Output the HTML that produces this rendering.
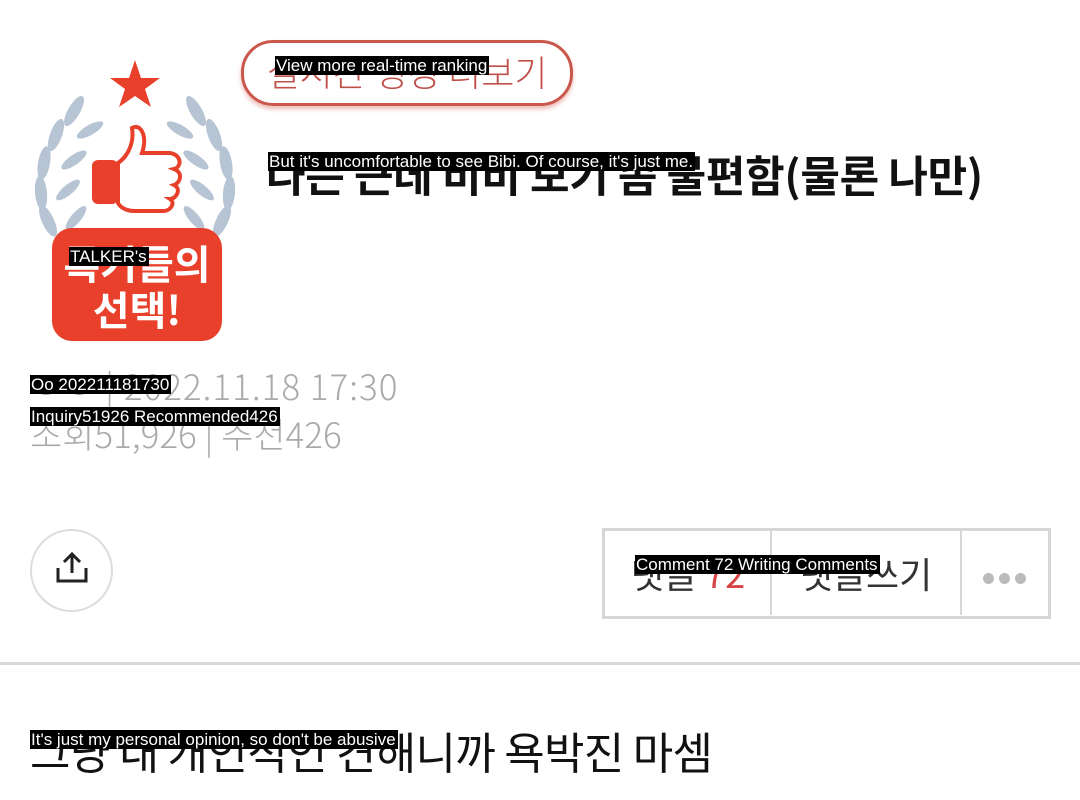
<!DOCTYPE html>
<html><head><meta charset="utf-8"><style>
html,body{margin:0;padding:0;background:#fff;width:1080px;height:800px;overflow:hidden;position:relative;font-family:"Liberation Sans","Noto Sans CJK KR",sans-serif}
.a{position:absolute;white-space:nowrap}
.cap{position:absolute;background:#000;color:#fff;font-family:"Liberation Sans",sans-serif;font-size:17px;line-height:19px;padding:0 2px 0 1px;white-space:nowrap;letter-spacing:0;z-index:5}
.k{font-family:"Noto Sans CJK KR",sans-serif}
</style></head><body>

<!-- badge -->
<svg class="a" style="left:30px;top:55px" width="210" height="290" viewBox="0 0 210 290">
  <polygon points="105,5 111,23 130,23 115,34 121,52 105,41 89,52 95,34 80,23 99,23" fill="#e8402a"/>
  <g fill="#b7c4d3">
    <ellipse cx="44" cy="56" rx="6" ry="17" transform="rotate(30 44 56)"/>
    <ellipse cx="26" cy="80" rx="6" ry="17" transform="rotate(20 26 80)"/>
    <ellipse cx="14" cy="108" rx="6" ry="17" transform="rotate(10 14 108)"/>
    <ellipse cx="11" cy="138" rx="6" ry="17" transform="rotate(-5 11 138)"/>
    <ellipse cx="18" cy="166" rx="6" ry="17" transform="rotate(-25 18 166)"/>
    <ellipse cx="60" cy="75" rx="5" ry="15" transform="rotate(60 60 75)"/>
    <ellipse cx="44" cy="105" rx="5" ry="15" transform="rotate(55 44 105)"/>
    <ellipse cx="38" cy="135" rx="5" ry="15" transform="rotate(50 38 135)"/>
    <ellipse cx="46" cy="163" rx="5" ry="15" transform="rotate(40 46 163)"/>
    <ellipse cx="166" cy="56" rx="6" ry="17" transform="rotate(-30 166 56)"/>
    <ellipse cx="184" cy="80" rx="6" ry="17" transform="rotate(-20 184 80)"/>
    <ellipse cx="196" cy="108" rx="6" ry="17" transform="rotate(-10 196 108)"/>
    <ellipse cx="199" cy="138" rx="6" ry="17" transform="rotate(5 199 138)"/>
    <ellipse cx="192" cy="166" rx="6" ry="17" transform="rotate(25 192 166)"/>
    <ellipse cx="150" cy="75" rx="5" ry="15" transform="rotate(-60 150 75)"/>
    <ellipse cx="166" cy="105" rx="5" ry="15" transform="rotate(-55 166 105)"/>
    <ellipse cx="172" cy="135" rx="5" ry="15" transform="rotate(-50 172 135)"/>
    <ellipse cx="164" cy="163" rx="5" ry="15" transform="rotate(-40 164 163)"/>
  </g>
  <rect x="62" y="105" width="26" height="44" rx="6" fill="#e8402a"/>
  <path d="M88 108 C100 100 104 85 102 73 C110 68 118 80 112 98 L140 98 C152 100 152 112 144 114 C154 118 150 128 144 130 C152 134 146 144 140 144 C146 148 140 156 134 156 L104 156 C96 156 90 152 88 148 Z" fill="#fff" stroke="#e8402a" stroke-width="4"/>
  <rect x="22" y="173" width="170" height="113" rx="20" fill="#e8402a"/>
  <text x="107" y="224" text-anchor="middle" font-family="Noto Sans CJK KR, sans-serif" font-weight="bold" font-size="40" fill="#fff">톡커들의</text>
  <text x="107" y="270" text-anchor="middle" font-family="Noto Sans CJK KR, sans-serif" font-weight="bold" font-size="40" fill="#fff">선택!</text>
</svg>
<div class="cap" style="left:69px;top:247px">TALKER's</div>

<!-- pill -->
<div class="a" style="left:241px;top:40px;width:326px;height:60px;border:3px solid #c9574c;border-radius:32px;box-shadow:0 3px 4px rgba(220,120,110,0.5)"></div>
<div class="a k" style="left:241px;top:44px;width:332px;text-align:center;font-size:36px;line-height:54px;color:#c0504a;font-weight:300">실시간 랭킹 더보기</div>
<div class="cap" style="left:275px;top:56px">View more real-time ranking</div>

<!-- title -->
<div class="a k" style="left:266px;top:142px;font-size:43px;font-weight:bold;line-height:64px;color:#111;letter-spacing:-0.3px">나는 근데 비비 보기 좀 불편함(물론 나만)</div>
<div class="cap" style="left:268px;top:152px">But it's uncomfortable to see Bibi. Of course, it's just me.</div>

<!-- meta -->
<div class="a k" style="left:30px;top:362px;font-size:35px;line-height:48px;color:#aaa;font-weight:300;letter-spacing:1px">ㅇㅇ | 2022.11.18 17:30</div>
<div class="a k" style="left:30px;top:410px;font-size:35px;line-height:48px;color:#aaa;font-weight:300">조회51,926 | 추천426</div>
<div class="cap" style="left:30px;top:375px">Oo 202211181730</div>
<div class="cap" style="left:30px;top:407px">Inquiry51926 Recommended426</div>

<!-- share -->
<div class="a" style="left:30px;top:529px;width:79px;height:79px;border:2px solid #ddd;border-radius:50%"></div>
<svg class="a" style="left:54px;top:550px" width="36" height="36" viewBox="0 0 36 36">
  <path d="M18 4 V23 M10 12 L18 4 L26 12" fill="none" stroke="#222" stroke-width="3"/>
  <path d="M4 18 V31 H32 V18" fill="none" stroke="#222" stroke-width="3"/>
</svg>

<!-- buttons -->
<div class="a" style="left:602px;top:528px;width:443px;height:85px;border:3px solid #d6d6d6"></div>
<div class="a" style="left:770px;top:530px;width:2px;height:85px;background:#d6d6d6"></div>
<div class="a" style="left:960px;top:530px;width:2px;height:85px;background:#d6d6d6"></div>
<div class="a k" style="left:605px;top:548px;width:166px;text-align:center;font-size:36px;line-height:50px;color:#333">댓글 <span style="color:#d64545">72</span></div>
<div class="a k" style="left:772px;top:548px;width:188px;text-align:center;font-size:36px;line-height:50px;color:#333">댓글쓰기</div>
<div class="a" style="left:983px;top:571px">
  <span style="display:inline-block;width:11px;height:11px;border-radius:50%;background:#bbb;margin-right:5px"></span><span style="display:inline-block;width:11px;height:11px;border-radius:50%;background:#bbb;margin-right:5px"></span><span style="display:inline-block;width:11px;height:11px;border-radius:50%;background:#bbb"></span>
</div>
<div class="cap" style="left:635px;top:555px">Comment 72 Writing Comments</div>

<!-- hr -->
<div class="a" style="left:0;top:662px;width:1080px;height:3px;background:#d9d9d9"></div>

<!-- body text -->
<div class="a k" style="left:30px;top:718px;font-size:44px;line-height:64px;color:#111;letter-spacing:-0.7px">그냥 내 개인적인 견해니까 욕박진 마셈</div>
<div class="cap" style="left:30px;top:730px">It's just my personal opinion, so don't be abusive</div>

</body></html>
